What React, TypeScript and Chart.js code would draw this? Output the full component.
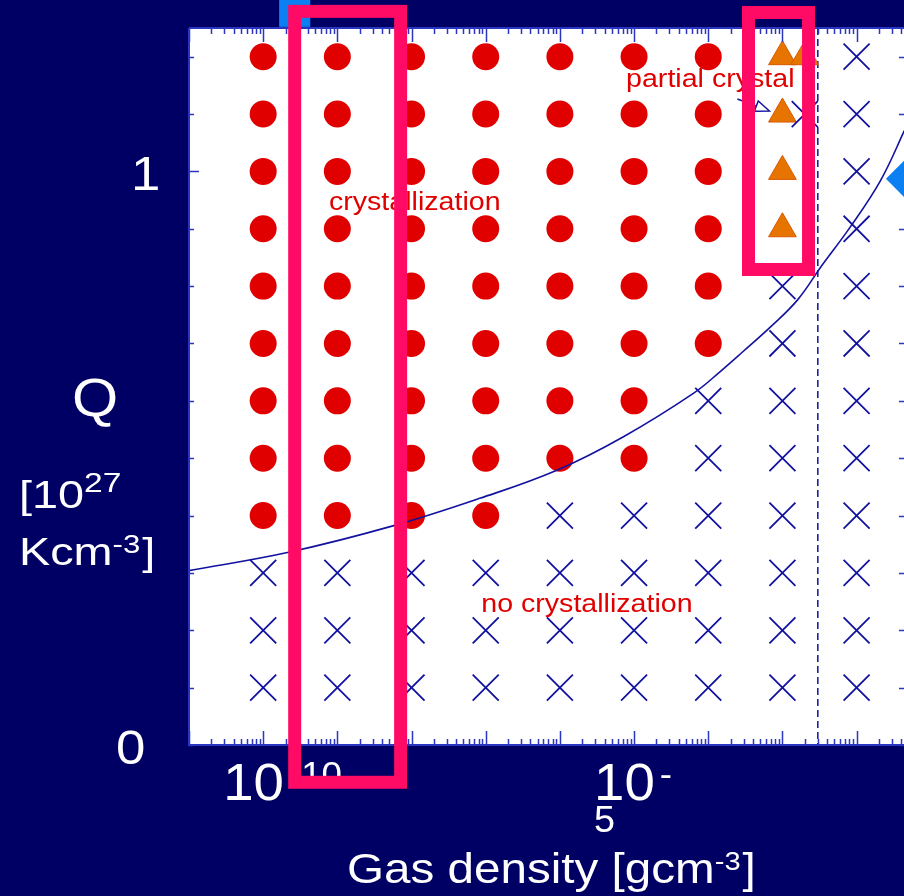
import React, { useEffect, useRef } from 'react';
import { Chart, registerables } from 'chart.js';

Chart.register(...registerables);

// Simulation grid: gas density columns (g cm^-3) and Q levels (10^27 K cm^-3)
const densityColumns = [1e-10, 1e-9, 1e-8, 1e-7, 1e-6, 1e-5, 1e-4, 1e-3, 1e-2];
const qLevels = [1.2, 1.1, 1.0, 0.9, 0.8, 0.7, 0.6, 0.5, 0.4, 0.3, 0.2, 0.1];
// C = crystallization, P = partial crystal, N = no crystallization (one letter per density column)
const outcomeRows = [
  'CCCCCCCPN',
  'CCCCCCCPN',
  'CCCCCCCPN',
  'CCCCCCCPN',
  'CCCCCCCNN',
  'CCCCCCCNN',
  'CCCCCCNNN',
  'CCCCCCNNN',
  'CCCCNNNNN',
  'NNNNNNNNN',
  'NNNNNNNNN',
  'NNNNNNNNN',
];
// Extra runs at 2e-3 g cm^-3
const extraDensity = 2e-3;
const extraPartialQ = [1.2];
const extraNoneQ = [1.1];

// Crystallization boundary curve
const boundaryDensity = [1e-11, 2.2e-10, 5.6e-9, 8.3e-8, 9.1e-7, 7.1e-6, 6.3e-5, 1.45e-4, 2.95e-4, 6.8e-4, 1.6e-3, 3.4e-3, 8.1e-3, 2.1e-2, 4.4e-2, 6e-2];
const boundaryQ = [0.304, 0.336, 0.382, 0.43, 0.479, 0.537, 0.613, 0.651, 0.686, 0.728, 0.776, 0.836, 0.902, 0.984, 1.071, 1.11];

// Density limit (dashed vertical line)
const limitDensity = 3e-3;

// Axis ranges and labelled ticks
const xMin = 1e-11;
const xMax = Math.pow(10, -1.361);
const yMin = 0;
const yMax = 1.25;
const yMinorStep = 0.1;
const xTickValues = [1e-10, 1e-5];
const xTickBase = ['10', '10'];
const xTickSup = ['-10', '-'];
const xTickWrap = ['', '5'];
const yTickValues = [0, 1];
const yTickText = ['0', '1'];

// Text annotations [density, Q] anchored at left / baseline
const noteText = ['crystallization', 'partial crystal', 'no crystallization'];
const noteDensity = [7.7e-10, 7.8e-6, 8.7e-8];
const noteQ = [0.933, 1.147, 0.232];

// Highlight boxes [xFrom, xTo, qTop, qBottom]
const boxXFrom = [2.66e-10, 3.49e-4];
const boxXTo = [7.13e-9, 2.25e-3];
const boxQTop = [1.279, 1.277];
const boxQBottom = [-0.065, 0.829];

const NAVY = '#000064';
const AXIS_BLUE = '#2a36c0';
const MARK_BLUE = '#1212a0';
const RED = '#e00000';
const PINK = '#ff0a64';
const BRIGHT_BLUE = '#0a80f2';
const FONT = '"Liberation Sans", Arial, sans-serif';

function drawText(ctx: CanvasRenderingContext2D, text: string, x: number, y: number, size: number, hScale: number, color: string): number {
  ctx.save();
  ctx.translate(x, y);
  ctx.scale(hScale, 1);
  ctx.font = `${size}px ${FONT}`;
  ctx.fillStyle = color;
  ctx.textAlign = 'left';
  ctx.textBaseline = 'alphabetic';
  ctx.fillText(text, 0, 0);
  const w = ctx.measureText(text).width * hScale;
  ctx.restore();
  return w;
}

function buildPoints(kind: string) {
  const pts: { x: number; y: number }[] = [];
  outcomeRows.forEach((row, r) => {
    row.split('').forEach((c, i) => {
      if (c === kind) pts.push({ x: densityColumns[i], y: qLevels[r] });
    });
  });
  return pts;
}

const slidePlugin = {
  id: 'slidePlugin',
  beforeDraw(chart: any) {
    const { ctx, chartArea: a, width, height } = chart;
    ctx.save();
    ctx.fillStyle = NAVY;
    ctx.fillRect(0, 0, width, height);
    ctx.fillStyle = '#ffffff';
    ctx.fillRect(a.left, a.top, a.right - a.left, a.bottom - a.top);
    ctx.restore();
  },
  beforeDatasetsDraw(chart: any) {
    const { ctx, chartArea: a, scales } = chart;
    const px = scales.x.getPixelForValue(limitDensity);
    ctx.save();
    ctx.strokeStyle = MARK_BLUE;
    ctx.lineWidth = 1.5;
    ctx.setLineDash([7, 4]);
    ctx.beginPath();
    ctx.moveTo(px, a.top);
    ctx.lineTo(px, a.bottom);
    ctx.stroke();
    ctx.restore();
  },
  afterDraw(chart: any) {
    const { ctx, chartArea: a, scales } = chart;
    const xs = scales.x;
    const ys = scales.y;
    ctx.save();

    // frame
    ctx.strokeStyle = AXIS_BLUE;
    ctx.lineWidth = 2;
    ctx.beginPath();
    ctx.moveTo(a.left, a.top);
    ctx.lineTo(a.left, a.bottom);
    ctx.lineTo(a.right, a.bottom);
    ctx.moveTo(a.left, a.top);
    ctx.lineTo(a.right, a.top);
    ctx.stroke();

    // log ticks on bottom and top
    ctx.lineWidth = 1.5;
    ctx.beginPath();
    for (let d = -11; d <= -1; d++) {
      for (let m = 1; m <= 9; m++) {
        const v = m * Math.pow(10, d);
        if (v < xMin || v > xMax) continue;
        const p = Math.round(xs.getPixelForValue(v)) + 0.5;
        const len = m === 1 ? 14 : 6;
        ctx.moveTo(p, a.bottom);
        ctx.lineTo(p, a.bottom - len);
        ctx.moveTo(p, a.top);
        ctx.lineTo(p, a.top + len);
      }
    }
    // linear ticks on left and right
    for (let k = 0; k * yMinorStep <= yMax + 1e-9; k++) {
      const v = k * yMinorStep;
      const p = Math.round(ys.getPixelForValue(v)) + 0.5;
      const len = k === 10 ? 10 : 5;
      ctx.moveTo(a.left, p);
      ctx.lineTo(a.left + len, p);
      ctx.moveTo(a.right, p);
      ctx.lineTo(a.right - len, p);
    }
    ctx.stroke();

    // x tick labels
    xTickValues.forEach((v, i) => {
      const p = xs.getPixelForValue(v);
      const x0 = p - 40;
      const w = drawText(ctx, xTickBase[i], x0, a.bottom + 55, 52, 1.05, '#ffffff');
      drawText(ctx, xTickSup[i], x0 + w + 5, a.bottom + 41, 35, 1.05, '#ffffff');
      if (xTickWrap[i]) drawText(ctx, xTickWrap[i], x0, a.bottom + 87, 36, 1.05, '#ffffff');
    });

    // y tick labels
    const yLabelLeft = [116, 131];
    yTickValues.forEach((v, i) => {
      const p = ys.getPixelForValue(v);
      drawText(ctx, yTickText[i], yLabelLeft[i], p + 19, 48, 1.1, '#ffffff');
    });

    // y title
    drawText(ctx, 'Q', 72, 416, 54, 1.1, '#ffffff');
    let w = drawText(ctx, '[10', 19, 508, 39, 1.2, '#ffffff');
    drawText(ctx, '27', 19 + w, 492, 28, 1.2, '#ffffff');
    w = drawText(ctx, 'Kcm', 19, 565, 39, 1.2, '#ffffff');
    const w2 = drawText(ctx, '-3', 19 + w, 553, 26, 1.2, '#ffffff');
    drawText(ctx, ']', 19 + w + w2 + 2, 565, 39, 1.2, '#ffffff');

    // x title
    const tx = 347;
    w = drawText(ctx, 'Gas density [gcm', tx, 883, 42.5, 1.12, '#ffffff');
    const w3 = drawText(ctx, '-3', tx + w, 870, 26, 1.12, '#ffffff');
    drawText(ctx, ']', tx + w + w3 + 2, 883, 42.5, 1.12, '#ffffff');

    // annotations
    noteText.forEach((t, i) => {
      drawText(ctx, t, xs.getPixelForValue(noteDensity[i]), ys.getPixelForValue(noteQ[i]), 26, 1.1, RED);
    });

    // arrow to the partial-crystal run
    const tipX = xs.getPixelForValue(1e-3) - 13;
    const tipY = ys.getPixelForValue(1.1) - 3;
    const sx = tipX - 32;
    const sy = tipY - 12;
    const ang = Math.atan2(tipY - sy, tipX - sx);
    ctx.strokeStyle = MARK_BLUE;
    ctx.lineWidth = 1.5;
    ctx.beginPath();
    ctx.moveTo(sx, sy);
    ctx.lineTo(tipX - Math.cos(ang) * 14, tipY - Math.sin(ang) * 14);
    ctx.stroke();
    const bx = tipX - Math.cos(ang) * 14;
    const by = tipY - Math.sin(ang) * 14;
    ctx.beginPath();
    ctx.moveTo(tipX, tipY);
    ctx.lineTo(bx + Math.sin(ang) * 5.5, by - Math.cos(ang) * 5.5);
    ctx.lineTo(bx - Math.sin(ang) * 5.5, by + Math.cos(ang) * 5.5);
    ctx.closePath();
    ctx.stroke();

    // blue marker square at the top and diamond on the right
    const sqL = xs.getPixelForValue(1.64e-10);
    const sqR = xs.getPixelForValue(4.31e-10);
    const sqT = ys.getPixelForValue(1.3);
    const sqB = ys.getPixelForValue(1.252);
    ctx.fillStyle = BRIGHT_BLUE;
    ctx.fillRect(sqL, sqT, sqR - sqL, sqB - sqT);

    const dx = xs.getPixelForValue(0.0557);
    const dy = ys.getPixelForValue(0.987);
    ctx.beginPath();
    ctx.moveTo(dx - 26, dy);
    ctx.lineTo(dx, dy - 26);
    ctx.lineTo(dx + 26, dy);
    ctx.lineTo(dx, dy + 26);
    ctx.closePath();
    ctx.fill();

    // highlight boxes
    ctx.strokeStyle = PINK;
    ctx.lineWidth = 13;
    ctx.lineJoin = 'miter';
    boxXFrom.forEach((_, i) => {
      const l = xs.getPixelForValue(boxXFrom[i]);
      const r = xs.getPixelForValue(boxXTo[i]);
      const t = ys.getPixelForValue(boxQTop[i]);
      const b = ys.getPixelForValue(boxQBottom[i]);
      ctx.strokeRect(l, t, r - l, b - t);
    });

    ctx.restore();
  },
};

export default function App() {
  const canvasRef = useRef<HTMLCanvasElement | null>(null);

  useEffect(() => {
    document.body.style.margin = '0';
    document.body.style.background = NAVY;
    const canvas = canvasRef.current;
    if (!canvas) return;

    const chart = new Chart(canvas, {
      type: 'scatter',
      data: {
        datasets: [
          {
            label: 'boundary',
            data: boundaryDensity.map((x, i) => ({ x, y: boundaryQ[i] })),
            showLine: true,
            borderColor: MARK_BLUE,
            borderWidth: 1.6,
            pointRadius: 0,
            tension: 0.4,
            fill: false,
          },
          {
            label: 'no crystallization',
            data: [...buildPoints('N'), ...extraNoneQ.map((y) => ({ x: extraDensity, y }))],
            pointStyle: 'crossRot',
            pointRadius: 18.4,
            borderColor: MARK_BLUE,
            borderWidth: 1.8,
            backgroundColor: MARK_BLUE,
          },
          {
            label: 'partial crystal',
            data: [...buildPoints('P'), ...extraPartialQ.map((y) => ({ x: extraDensity, y }))],
            pointStyle: 'triangle',
            pointRadius: 16,
            backgroundColor: '#e87400',
            borderColor: '#d65a00',
            borderWidth: 1,
          },
          {
            label: 'crystallization',
            data: buildPoints('C'),
            pointStyle: 'circle',
            pointRadius: 13.5,
            backgroundColor: RED,
            borderWidth: 0,
          },
        ],
      },
      options: {
        responsive: false,
        animation: false,
        devicePixelRatio: 1,
        layout: { autoPadding: false, padding: { left: 189, top: 28, right: 0, bottom: 151 } },
        scales: {
          x: { type: 'logarithmic', min: xMin, max: xMax, display: false },
          y: { type: 'linear', min: yMin, max: yMax, display: false },
        },
        plugins: {
          legend: { display: false },
          tooltip: { enabled: false },
        },
        events: [],
      },
      plugins: [slidePlugin],
    });

    return () => chart.destroy();
  }, []);

  return (
    <div style={{ width: 904, height: 896 }}>
      <canvas ref={canvasRef} width={904} height={896} style={{ display: 'block' }} />
    </div>
  );
}
